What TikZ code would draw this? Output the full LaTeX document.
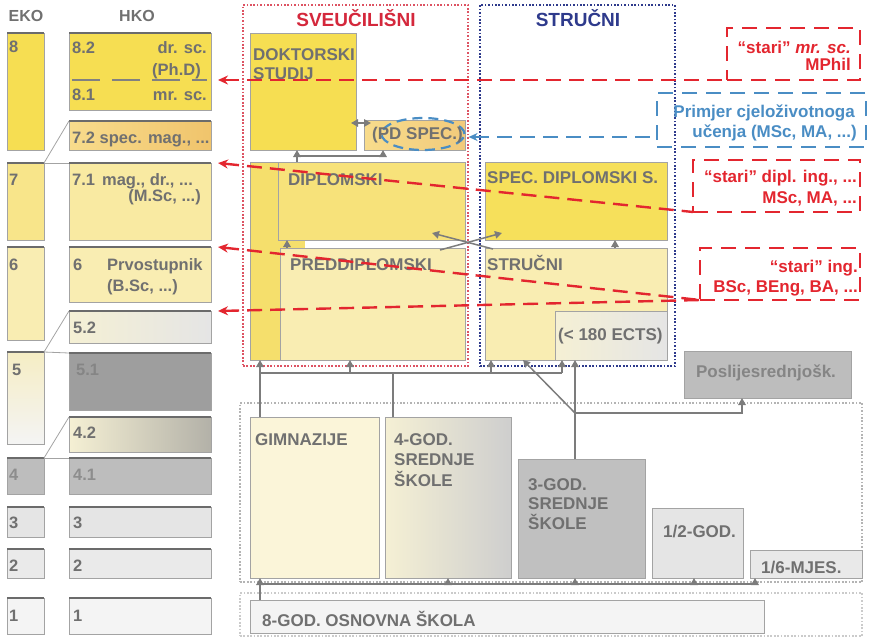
\documentclass[tikz,border=0pt]{standalone}
\usepackage{fontspec}
\setmainfont{Liberation Sans}
\usetikzlibrary{arrows.meta,calc,positioning,shapes.geometric}

\definecolor{tekst}{HTML}{707070}
\definecolor{rub}{HTML}{A3A3A3}
\definecolor{tamna}{HTML}{6B6B6B}
\definecolor{strel}{HTML}{7C7C7C}
\definecolor{zuta}{HTML}{F6DE52}
\definecolor{zutab}{HTML}{F8E58A}
\definecolor{zutac}{HTML}{F9EDB2}
\definecolor{zutad}{HTML}{F9EAA2}
\definecolor{zutae}{HTML}{F7E27A}
\definecolor{zutaf}{HTML}{F5DF6C}
\definecolor{nar1}{HTML}{F8DC8C}
\definecolor{nar2}{HTML}{F0C46C}
\definecolor{krem}{HTML}{F5EDC4}
\definecolor{krem2}{HTML}{F5F0D4}
\definecolor{krem3}{HTML}{FBF5D9}
\definecolor{siv42}{HTML}{B3B1A8}
\definecolor{crvena}{HTML}{E3262F}
\definecolor{tcrvena}{HTML}{D4283C}
\definecolor{plava}{HTML}{4A8DC4}
\definecolor{tplava}{HTML}{2E3A8C}
\definecolor{sivaa}{HTML}{9E9E9E}
\definecolor{sivab}{HTML}{BDBDBD}
\definecolor{sivac}{HTML}{E5E5E5}
\definecolor{sivad}{HTML}{F4F4F4}
\definecolor{tocke}{HTML}{B4B4B4}

\tikzset{
  kut/.style={draw=rub, line width=0.8pt, anchor=north west, inner sep=0pt, outer sep=0pt},
  vrh/.style={draw=tamna, line width=2.6pt},
  veza/.style={draw=rub, line width=0.8pt},
  hd/.style={text=tekst, font=\fontsize{16}{19}\selectfont\bfseries, inner sep=0pt, anchor=base},
  lt/.style={text=tekst, font=\fontsize{16.5}{20}\selectfont\bfseries, inner sep=0pt, anchor=base west},
  tx/.style={text=tekst, font=\fontsize{17}{20}\selectfont\bfseries, inner sep=0pt, anchor=base west},
  nasl/.style={font=\fontsize{19}{22}\selectfont\bfseries, inner sep=0pt, anchor=base},
  crtx/.style={text=crvena, font=\fontsize{17}{20}\selectfont\bfseries, inner sep=0pt, anchor=base east},
  pltx/.style={text=plava, font=\fontsize{17}{20}\selectfont\bfseries, inner sep=0pt, anchor=base east},
  str/.style={draw=strel, line width=1.5pt, -{Triangle[length=7pt,width=7.5pt]}},
  vod/.style={draw=strel, line width=1.5pt},
  crt/.style={draw=crvena, line width=2.4pt, dash pattern=on 15pt off 8pt},
  crbox/.style={draw=crvena, line width=2.2pt, dash pattern=on 15pt off 9pt, anchor=north west, inner sep=0pt, outer sep=0pt},
  plbox/.style={draw=plava, line width=2.2pt, dash pattern=on 15pt off 9pt, anchor=north west, inner sep=0pt, outer sep=0pt},
  tockast/.style={line width=1.7pt, dash pattern=on 1.7pt off 1.7pt, anchor=north west, inner sep=0pt, outer sep=0pt},
}

\begin{document}
\begin{tikzpicture}[x=1pt, y=-1pt]
  \useasboundingbox (0,0) rectangle (869,638);
  % razine EKO
  \node[kut, fill=zuta, minimum width=37pt, minimum height=117pt] (e8) at (7,33) {};
  \node[kut, fill=zutab, minimum width=37pt, minimum height=77pt] (e7) at (7,163) {};
  \node[kut, fill=zutac, minimum width=37pt, minimum height=93pt] (e6) at (7,247) {};
  \node[kut, top color=krem, bottom color=sivad, minimum width=37pt, minimum height=92pt] (e5) at (7,352) {};
  \node[kut, fill=sivab, minimum width=37pt, minimum height=36pt] (e4) at (7,458) {};
  \node[kut, fill=sivac, minimum width=37pt, minimum height=30pt] (e3) at (7,507) {};
  \node[kut, fill=sivac!80!white, minimum width=37pt, minimum height=29pt] (e2) at (7,549) {};
  \node[kut, fill=sivad, minimum width=37pt, minimum height=36pt] (e1) at (7,598) {};
  % razine HKO
  \node[kut, fill=zuta, minimum width=142pt, minimum height=77pt] (h8) at (69,33) {};
  \node[kut, left color=nar1, right color=nar2, minimum width=142pt, minimum height=29pt] (h72) at (69,121) {};
  \node[kut, fill=zutad, minimum width=142pt, minimum height=77pt] (h71) at (69,163) {};
  \node[kut, fill=zutac, minimum width=142pt, minimum height=55pt] (h6) at (69,247) {};
  \node[kut, left color=krem2, right color=sivac, minimum width=142pt, minimum height=32pt] (h52) at (69,311) {};
  \node[kut, fill=sivaa, minimum width=142pt, minimum height=57pt] (h51) at (69,353) {};
  \node[kut, left color=krem2, right color=siv42, minimum width=142pt, minimum height=35pt] (h42) at (69,417) {};
  \node[kut, fill=sivab, minimum width=142pt, minimum height=36pt] (h41) at (69,458) {};
  \node[kut, fill=sivac, minimum width=142pt, minimum height=30pt] (h3) at (69,507) {};
  \node[kut, fill=sivac!80!white, minimum width=142pt, minimum height=29pt] (h2) at (69,549) {};
  \node[kut, fill=sivad, minimum width=142pt, minimum height=36pt] (h1) at (69,598) {};
  \foreach \r in {e8,e7,e6,e5,e4,e3,e2,e1,h8,h72,h71,h6,h52,h51,h42,h41,h3,h2,h1}
    \draw[vrh] (\r.north west) -- (\r.north east);
  \draw[draw=tamna!85, line width=1.6pt, dash pattern=on 28pt off 12pt]
    ($(h8.south west)+(3,-30)$) -- ($(h8.south east)+(-4,-30)$);
  \foreach \a/\b in {e7/h72,e7/h71,e5/h52,e5/h51,e4/h42,e4/h41}
    \draw[veza] (\a.north east) -- (\b.north west);

  % sveucilisni i strucni
  \node[tockast, draw=tcrvena!80!white, minimum width=225pt, minimum height=361pt] (sveu) at (243,5) {};
  \node[tockast, draw=tplava, minimum width=195pt, minimum height=361pt] (stru) at (480,5) {};
  \node[kut, fill=zuta, minimum width=106pt, minimum height=117pt] (dok) at (250,33) {};
  \node[kut, left color=nar1, right color=nar2!90!white, minimum width=101pt, minimum height=30pt] (pds) at (364,120) {};
  \node[kut, fill=zutaf, minimum width=30pt, minimum height=198pt] (lijevi) at (250,162) {};
  \node[kut, fill=zutae, minimum width=187pt, minimum height=78pt] (dipl) at (278,162) {};
  \fill[zutaf] ($(dipl.south west)+(0.5,0.5)$) rectangle ($(dipl.south west)+(27,8)$);
  \node[kut, fill=zutac, minimum width=185pt, minimum height=112pt] (pred) at (280,248) {};
  \node[kut, fill=zuta!95!white, minimum width=182pt, minimum height=78pt] (spec) at (485,162) {};
  \node[kut, fill=zutac, minimum width=182pt, minimum height=112pt] (strinner) at (485,248) {};
  \node[kut, left color=krem2, right color=sivac, minimum width=112pt, minimum height=49pt] (ects) at (555,311) {};
  \node[kut, fill=sivab, minimum width=167pt, minimum height=47pt] (posl) at (684,351) {};
  \node[draw=plava, line width=2.2pt, dash pattern=on 10pt off 6pt, ellipse, minimum width=83pt, minimum height=32pt] (elip) at (423,134) {};

  % srednje i osnovna
  \node[tockast, draw=tocke, minimum width=622pt, minimum height=179pt] (sred) at (240,403) {};
  \node[kut, fill=krem3, minimum width=129pt, minimum height=161pt] (gim) at (250,417) {};
  \node[kut, left color=krem2, right color=sivac!90!black, minimum width=126pt, minimum height=161pt] (cet) at (385,417) {};
  \node[kut, fill=sivab!95!white, minimum width=127pt, minimum height=119pt] (tri) at (518,459) {};
  \node[kut, fill=sivac, minimum width=91pt, minimum height=70pt] (dvije) at (652,508) {};
  \node[kut, fill=sivac!85!white, minimum width=112pt, minimum height=28pt] (sest) at (750,550) {};
  \node[tockast, draw=tocke!70!white, minimum width=622pt, minimum height=43pt] (osn) at (240,593) {};
  \node[kut, fill=sivad, minimum width=514pt, minimum height=33pt] (osnovna) at (250,600) {};

  % okviri desno
  \node[crbox, minimum width=133pt, minimum height=52pt] (stmr) at (727,28) {};
  \node[plbox, minimum width=209pt, minimum height=54pt] (prim) at (657,93) {};
  \node[crbox, minimum width=167pt, minimum height=52pt] (stdip) at (693,160) {};
  \node[crbox, minimum width=160pt, minimum height=52pt] (sting) at (700,248) {};

  % tekstovi lijevo
  \node[hd] (eko) at (26,21) {EKO};
  \node[hd] (hko) at (137,21) {HKO};
  \node[lt] (n8) at (9,52) {8};   \node[lt] (n7) at (9,185) {7};
  \node[lt] (n6) at (9,270) {6};  \node[lt] (n5) at (12,375) {5};
  \node[lt, text=tekst!80!white] (n4) at (9,480) {4};  \node[lt] (n3) at (9,528) {3};
  \node[lt] (n2) at (9,571) {2};  \node[lt] (n1) at (9,621) {1};
  \node[lt] (k82) at (72,53) {8.2};  \node[lt, anchor=base east] (kdr) at (207,53) {dr. sc.};
  \node[lt, anchor=base east] (kphd) at (201,75) {(Ph.D)};
  \node[lt] (k81) at (72,100) {8.1};  \node[lt, anchor=base east] (kmr) at (207,100) {mr. sc.};
  \node[lt] (k72) at (72,143) {7.2 spec. mag., ...};
  \node[lt] (k71) at (72,185) {7.1\hspace{7pt}mag., dr., ...};
  \node[lt, anchor=base east] (kmsc) at (201,201) {(M.Sc, ...)};
  \node[lt] (k6) at (73,270) {6};  \node[lt] (kpr) at (107,270) {Prvostupnik};
  \node[lt] (kbsc) at (107,291) {(B.Sc, ...)};
  \node[lt] (k52) at (73,333) {5.2};
  \node[lt, text=tekst!85!white] (k51) at (76,375) {5.1};
  \node[lt] (k42) at (73,438) {4.2};
  \node[lt, text=tekst!80!white] (k41) at (73,480) {4.1};
  \node[lt] (k3) at (73,528) {3};  \node[lt] (k2) at (73,571) {2};  \node[lt] (k1) at (73,621) {1};

  % tekstovi sredina
  \node[nasl, text=tcrvena] (tsveu) at (356,26) {SVEUČILIŠNI};
  \node[nasl, text=tplava] (tstru) at (578,26) {STRUČNI};
  \node[tx] (tdok) at (253,60) {DOKTORSKI};  \node[tx] (tdok2) at (253,79) {STUDIJ};
  \node[tx] (tpds) at (372,139) {(PD SPEC.)};
  \node[tx] (tdipl) at (288,185) {DIPLOMSKI};
  \node[tx] (tpred) at (290,270) {PREDDIPLOMSKI};
  \node[tx] (tspec) at (487,183) {SPEC. DIPLOMSKI S.};
  \node[tx] (tstr) at (487,270) {STRUČNI};
  \node[tx] (tects) at (558,340) {(< 180 ECTS)};
  \node[tx, anchor=base, text=tekst!85!white] (tposl) at (766,377) {Poslijesrednjošk.};
  \node[tx] (tgim) at (255,445) {GIMNAZIJE};
  \node[tx] (tcet) at (394,445) {4-GOD.};  \node[tx] (tcet2) at (394,465) {SREDNJE};
  \node[tx] (tcet3) at (394,486) {ŠKOLE};
  \node[tx] (ttri) at (528,490) {3-GOD.};  \node[tx] (ttri2) at (528,509) {SREDNJE};
  \node[tx] (ttri3) at (528,529) {ŠKOLE};
  \node[tx] (tdvije) at (663,537) {1/2-GOD.};
  \node[tx] (tsest) at (761,573) {1/6-MJES.};
  \node[tx] (tosn) at (262,626) {8-GOD. OSNOVNA ŠKOLA};

  % tekstovi desno
  \node[crtx] (tmr) at (851,53) {\textquotedblleft stari\textquotedblright{} \textit{mr. sc.}};
  \node[crtx] (tmr2) at (851,70) {MPhil};
  \node[pltx] (tpr) at (855,117) {Primjer cjeloživotnoga};
  \node[pltx] (tpr2) at (857,137) {učenja (MSc, MA, ...)};
  \node[crtx] (tdi) at (857,182) {\textquotedblleft stari\textquotedblright{} dipl. ing., ...};
  \node[crtx] (tdi2) at (857,203) {MSc, MA, ...};
  \node[crtx] (tin) at (858,272) {\textquotedblleft stari\textquotedblright{} ing.};
  \node[crtx] (tin2) at (858,292) {BSc, BEng, BA, ...};

  % strelice gore
  \draw[str, {Triangle[length=7pt,width=7.5pt]}-{Triangle[length=7pt,width=7.5pt]}]
    ($(dok.south east)+(-5,-27)$) -- ($(pds.north west)+(7,3)$);
  \draw[str] ($(dipl.north west)+(19,0)$) -- ($(dok.south west)+(47,0)$);
  \draw[str] ($(dipl.north west)+(19,-6)$) -| ($(pds.south west)+(19,0)$);
  \draw[str] ($(pred.north west)+(7,0)$) -- ($(dipl.south west)+(9,0)$);
  \draw[str] ($(strinner.north west)+(130,0)$) -- ($(spec.south west)+(130,0)$);
  \draw[str] ($(pred.north east)+(-25,2)$) -- ($(spec.south west)+(17,-7)$);
  \draw[str] ($(strinner.north west)+(8,1)$) -- ($(dipl.south east)+(-33,-7)$);
  % iz srednjih
  \draw[str] ($(gim.north west)+(10,0)$) -- ($(lijevi.south west)+(10,0)$);
  \draw[vod] ($(gim.north west)+(10,-44)$) -- ($(ects.south west)+(7,13)$);
  \draw[vod] ($(cet.north west)+(8,0)$) -- ($(cet.north west)+(8,-44)$);
  \draw[str] ($(pred.south west)+(70,13)$) -- ($(pred.south west)+(70,0)$);
  \draw[str] ($(strinner.south west)+(6,13)$) -- ($(strinner.south west)+(6,0)$);
  \draw[str] ($(ects.south west)+(7,13)$) -- ($(ects.south west)+(7,0)$);
  \draw[str] ($(tri.north west)+(57,0)$) -- ($(ects.south west)+(20,0)$);
  \draw[str] ($(tri.north west)+(57,-46)$) -- ($(strinner.south west)+(38,0)$);
  \draw[str] ($(tri.north west)+(57,-46)$) -| ($(posl.south west)+(58,0)$);
  % iz osnovne
  \draw[str] ($(osnovna.north west)+(10,0)$) -- ($(gim.south west)+(10,0)$);
  \draw[vod] ($(osnovna.north west)+(10,-16)$) -- ($(sest.south west)+(5,6)$);
  \draw[str] ($(cet.south west)+(63,6)$) -- ($(cet.south west)+(63,0)$);
  \draw[str] ($(tri.south west)+(57,6)$) -- ($(tri.south west)+(57,0)$);
  \draw[str] ($(dvije.south west)+(42,6)$) -- ($(dvije.south west)+(42,0)$);
  \draw[str] ($(sest.south west)+(5,6)$) -- ($(sest.south west)+(5,0)$);

  % stari nazivi
  \draw[crt, {Stealth[length=10pt,width=9pt]}-] ($(h8.north east)+(7,47)$) -- (stmr.south west);
  \draw[crt, {Stealth[length=10pt,width=9pt]}-] ($(h71.north east)+(7,0)$) -- (stdip.south west);
  \draw[crt, {Stealth[length=10pt,width=9pt]}-] ($(h6.north east)+(7,0)$) -- (sting.south west);
  \draw[crt, {Stealth[length=10pt,width=9pt]}-] ($(h52.north east)+(7,0)$) -- (sting.south west);
  \draw[draw=plava, line width=2.2pt, dash pattern=on 15pt off 8pt, {Stealth[length=9pt,width=8pt]}-]
    ($(elip.east)+(3,3)$) -- ($(prim.south west)+(0,-10)$);
\end{tikzpicture}
\end{document}
